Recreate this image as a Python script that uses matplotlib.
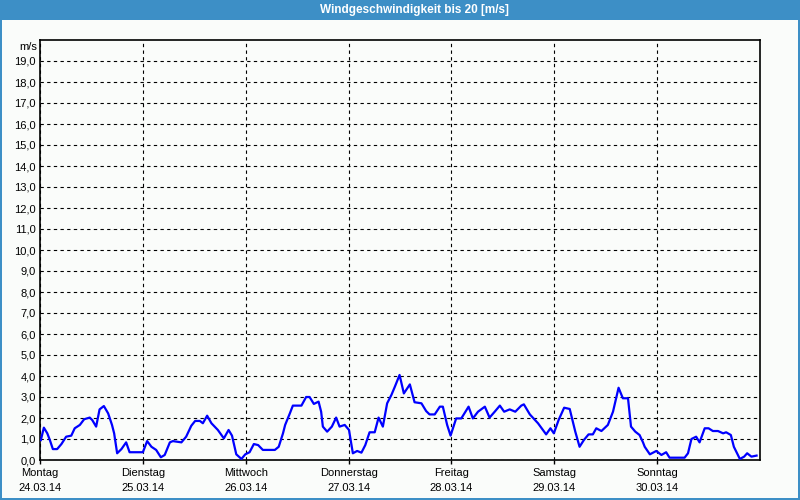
import matplotlib
matplotlib.use("Agg")
import matplotlib.pyplot as plt
from matplotlib.patches import Rectangle

plt.rcParams["font.family"] = ["Liberation Sans", "DejaVu Sans"]

# hours since Monday 00:00 and wind speed in m/s
hours = [0.2, 0.9, 1.7, 2.3, 3.0, 4.0, 5.0, 6.1, 7.3, 8.1, 9.3, 10.3, 11.6, 12.2,
         13.1, 13.9, 14.9, 15.9, 16.8, 17.3, 18.0, 19.0, 20.1, 20.9, 24.0, 25.0,
         26.0, 27.1, 28.2, 29.1, 30.3, 31.0, 33.0, 34.1, 35.3, 36.2, 37.3, 38.0,
         39.0, 40.0, 41.5, 42.9, 44.0, 44.8, 45.8, 47.0, 47.9, 48.9, 49.9, 50.9,
         52.0, 54.8, 55.7, 56.7, 57.2, 58.3, 59.0, 61.0, 62.1, 62.9, 63.9, 65.0,
         65.6, 66.0, 67.0, 68.1, 69.1, 69.9, 71.1, 72.1, 73.0, 74.0, 75.0, 75.9,
         76.9, 78.1, 79.0, 80.0, 81.0, 82.0, 82.8, 83.9, 84.9, 86.3, 87.4, 89.0,
         90.1, 90.9, 92.1, 93.3, 94.0, 95.0, 95.8, 97.1, 98.3, 100.0, 101.0,
         102.2, 103.8, 104.9, 106.1, 107.3, 108.3, 109.6, 110.9, 112.3, 112.9,
         114.3, 116.2, 118.1, 119.1, 119.9, 121.0, 122.3, 123.6, 124.9, 125.9,
         126.9, 128.0, 129.0, 129.8, 131.0, 132.5, 133.7, 135.0, 136.0, 137.2,
         137.9, 138.9, 139.9, 140.7, 141.1, 142.3, 143.8, 145.0, 146.1, 146.9,
         150.4, 151.2, 152.0, 153.1, 153.9, 155.1, 156.0, 157.0, 158.2, 159.4,
         160.1, 161.2, 161.9, 163.3, 164.3, 165.0, 166.0, 167.2]
speed = [0.95, 1.54, 1.27, 0.95, 0.52, 0.52, 0.76, 1.11, 1.16, 1.51, 1.67, 1.94,
         2.02, 1.90, 1.59, 2.41, 2.57, 2.22, 1.67, 1.27, 0.32, 0.52, 0.84, 0.37,
         0.37, 0.90, 0.63, 0.48, 0.13, 0.24, 0.84, 0.90, 0.84, 1.11, 1.63, 1.86,
         1.86, 1.75, 2.11, 1.75, 1.43, 1.03, 1.43, 1.16, 0.27, 0.05, 0.27, 0.37,
         0.76, 0.71, 0.48, 0.48, 0.63, 1.27, 1.67, 2.22, 2.59, 2.59, 3.0, 3.0,
         2.67, 2.78, 2.30, 1.59, 1.35, 1.59, 2.02, 1.59, 1.67, 1.43, 0.32, 0.43,
         0.35, 0.71, 1.32, 1.32, 2.02, 1.59, 2.70, 3.10, 3.49, 4.05, 3.17, 3.60,
         2.75, 2.70, 2.33, 2.17, 2.17, 2.54, 2.54, 1.67, 1.16, 1.98, 1.98, 2.54,
         1.98, 2.30, 2.54, 2.02, 2.30, 2.59, 2.30, 2.41, 2.30, 2.59, 2.65, 2.17,
         1.75, 1.22, 1.51, 1.27, 1.90, 2.49, 2.43, 1.35, 0.63, 0.95, 1.22, 1.22,
         1.51, 1.38, 1.67, 2.30, 3.44, 2.94, 2.94, 1.59, 1.35, 1.19, 0.84, 0.63,
         0.27, 0.43, 0.24, 0.37, 0.11, 0.11, 0.32, 1.00, 1.11, 0.84, 1.51, 1.51,
         1.38, 1.38, 1.27, 1.32, 1.19, 0.63, 0.05, 0.16, 0.32, 0.16, 0.21]

days = ["Montag", "Dienstag", "Mittwoch", "Donnerstag", "Freitag", "Samstag", "Sonntag"]
dates = ["24.03.14", "25.03.14", "26.03.14", "27.03.14", "28.03.14", "29.03.14", "30.03.14"]
title = "Windgeschwindigkeit bis 20 [m/s]"

BLUE = "#3d8fc6"
BG = "#fafcfa"

fig = plt.figure(figsize=(8, 5), dpi=100, facecolor=BG)

# window frame and title bar
fig.patches.append(Rectangle((0, 0.96), 1, 0.04, transform=fig.transFigure,
                             facecolor=BLUE, edgecolor="none", zorder=0))
fig.patches.append(Rectangle((0, 0), 0.0025, 1, transform=fig.transFigure,
                             facecolor=BLUE, edgecolor="none", zorder=0))
fig.patches.append(Rectangle((0.9975, 0), 0.0025, 1, transform=fig.transFigure,
                             facecolor=BLUE, edgecolor="none", zorder=0))
fig.patches.append(Rectangle((0, 0), 1, 0.004, transform=fig.transFigure,
                             facecolor=BLUE, edgecolor="none", zorder=0))
fig.text(0.518, 0.98, title, color="white", fontsize=8.5, fontweight="bold",
         ha="center", va="center")

ax = fig.add_axes([0.05, 0.08, 0.9, 0.84], facecolor=BG)
ax.plot(hours, speed, color="#0000ff", lw=1.6, zorder=3)

ax.set_xlim(0, 168)
ax.set_ylim(0, 20)
ax.set_yticks(range(0, 20))
ax.set_yticklabels([f"{v},0" for v in range(0, 20)])
ax.set_xticks([24 * i for i in range(len(days))])
ax.set_xticklabels([f"{d}\n{t}" for d, t in zip(days, dates)], linespacing=1.6)

ax.tick_params(axis="y", length=0, pad=3, labelsize=8)
ax.tick_params(axis="x", length=3, width=1, direction="out", pad=3, labelsize=8)
ax.grid(True, color="black", linestyle=(0, (3, 3)), linewidth=0.8)
for s in ax.spines.values():
    s.set_linewidth(1.2)
    s.set_color("black")

ax.text(-0.004, 19.65, "m/s", transform=ax.get_yaxis_transform(),
        ha="right", va="center", fontsize=8)

fig.savefig("out.png", dpi=100, facecolor=BG)
